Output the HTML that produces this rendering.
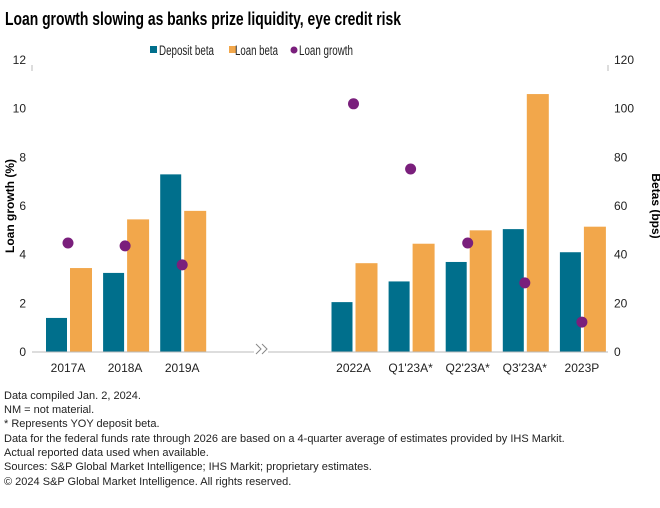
<!DOCTYPE html>
<html><head><meta charset="utf-8"><style>
body{margin:0;background:#fff;font-family:"Liberation Sans",sans-serif;}
svg text{font-family:"Liberation Sans",sans-serif;}
</style></head><body>
<svg id="chart" width="660" height="503">
<text x="5" y="25" font-size="18.5" font-weight="bold" fill="#000" textLength="396" lengthAdjust="spacingAndGlyphs">Loan growth slowing as banks prize liquidity, eye credit risk</text>
<g>
<rect x="150" y="46" width="7" height="7" fill="#006f8c"/>
<text x="159" y="55" font-size="13.5" fill="#222" textLength="55" lengthAdjust="spacingAndGlyphs">Deposit beta</text>
<rect x="229" y="46" width="7" height="7" fill="#f2a74b"/>
<text x="235" y="55" font-size="13.5" fill="#222" textLength="43" lengthAdjust="spacingAndGlyphs">Loan beta</text>
<circle cx="294" cy="50" r="3.5" fill="#7a1f7c"/>
<text x="299" y="55" font-size="13.5" fill="#222" textLength="54" lengthAdjust="spacingAndGlyphs">Loan growth</text>
</g>
<line x1="32" y1="65" x2="32" y2="71" stroke="#bbb"/>
<line x1="608" y1="65" x2="608" y2="71" stroke="#bbb"/>
<g id="marks"></g>
<line x1="32" y1="352" x2="608" y2="352" stroke="#bbb"/>
<rect x="254" y="343" width="14" height="18" fill="#fff"/>
<path d="M256,344 L261,349 L256,354 M262,344 L267,349 L262,354" stroke="#888" fill="none"/>
<text transform="translate(14,206) rotate(-90)" font-size="12" font-weight="bold" text-anchor="middle">Loan growth (%)</text>
<text transform="translate(652,206) rotate(90)" font-size="12" font-weight="bold" text-anchor="middle">Betas (bps)</text>
<g font-size="11" fill="#222">
<text x="4" y="399">Data compiled Jan. 2, 2024.</text>
<text x="4" y="413">NM = not material.</text>
<text x="4" y="427">* Represents YOY deposit beta.</text>
<text x="4" y="442">Data for the federal funds rate through 2026 are based on a 4-quarter average of estimates provided by IHS Markit.</text>
<text x="4" y="456">Actual reported data used when available.</text>
<text x="4" y="470">Sources: S&amp;P Global Market Intelligence; IHS Markit; proprietary estimates.</text>
<text x="4" y="485">© 2024 S&amp;P Global Market Intelligence. All rights reserved.</text>
</g>
</svg>
<script>
const categories=["2017A","2018A","2019A","2022A","Q1'23A*","Q2'23A*","Q3'23A*","2023P"];
const slots=[0,1,2,5,6,7,8,9];
const depositBeta=[14,32.5,73,20.5,29,37,50.5,41];
const loanBeta=[34.5,54.5,58,36.5,44.5,50,106,51.5];
const loanGrowth=[4.48,4.36,3.58,10.2,7.52,4.48,2.84,1.23];
const leftTicks=[0,2,4,6,8,10,12];
const rightTicks=[0,20,40,60,80,100,120];
const NS="http://www.w3.org/2000/svg";
const y0=352,y1=60;
const yL=v=>y0-(v/12)*(y0-y1);
const yR=v=>y0-(v/120)*(y0-y1);
const xC=s=>68+s*57.1;
const g=document.getElementById('marks');
function mk(t,a){const e=document.createElementNS(NS,t);for(const k in a)e.setAttribute(k,a[k]);g.appendChild(e);return e;}
leftTicks.forEach(v=>{const t=mk('text',{x:26,y:yL(v)+4,'font-size':12,'text-anchor':'end',fill:'#222'});t.textContent=v;

});
rightTicks.forEach(v=>{const t=mk('text',{x:614,y:yR(v)+4,'font-size':12,'text-anchor':'start',fill:'#222'});t.textContent=v;

});
categories.forEach((c,i)=>{const cx=xC(slots[i]);
const d=mk('rect',{x:cx-22,y:yR(depositBeta[i]),width:21,height:y0-yR(depositBeta[i]),fill:'#006f8c'});


const l=mk('rect',{x:cx+2,y:yR(loanBeta[i]),width:22,height:y0-yR(loanBeta[i]),fill:'#f2a74b'});


const t=mk('text',{x:cx,y:372,'font-size':12,'text-anchor':'middle',fill:'#222'});t.textContent=c;

});
categories.forEach((c,i)=>{const p=mk('circle',{cx:xC(slots[i]),cy:yL(loanGrowth[i]),r:5.5,fill:'#7a1f7c'});

});
</script>
</body></html>
